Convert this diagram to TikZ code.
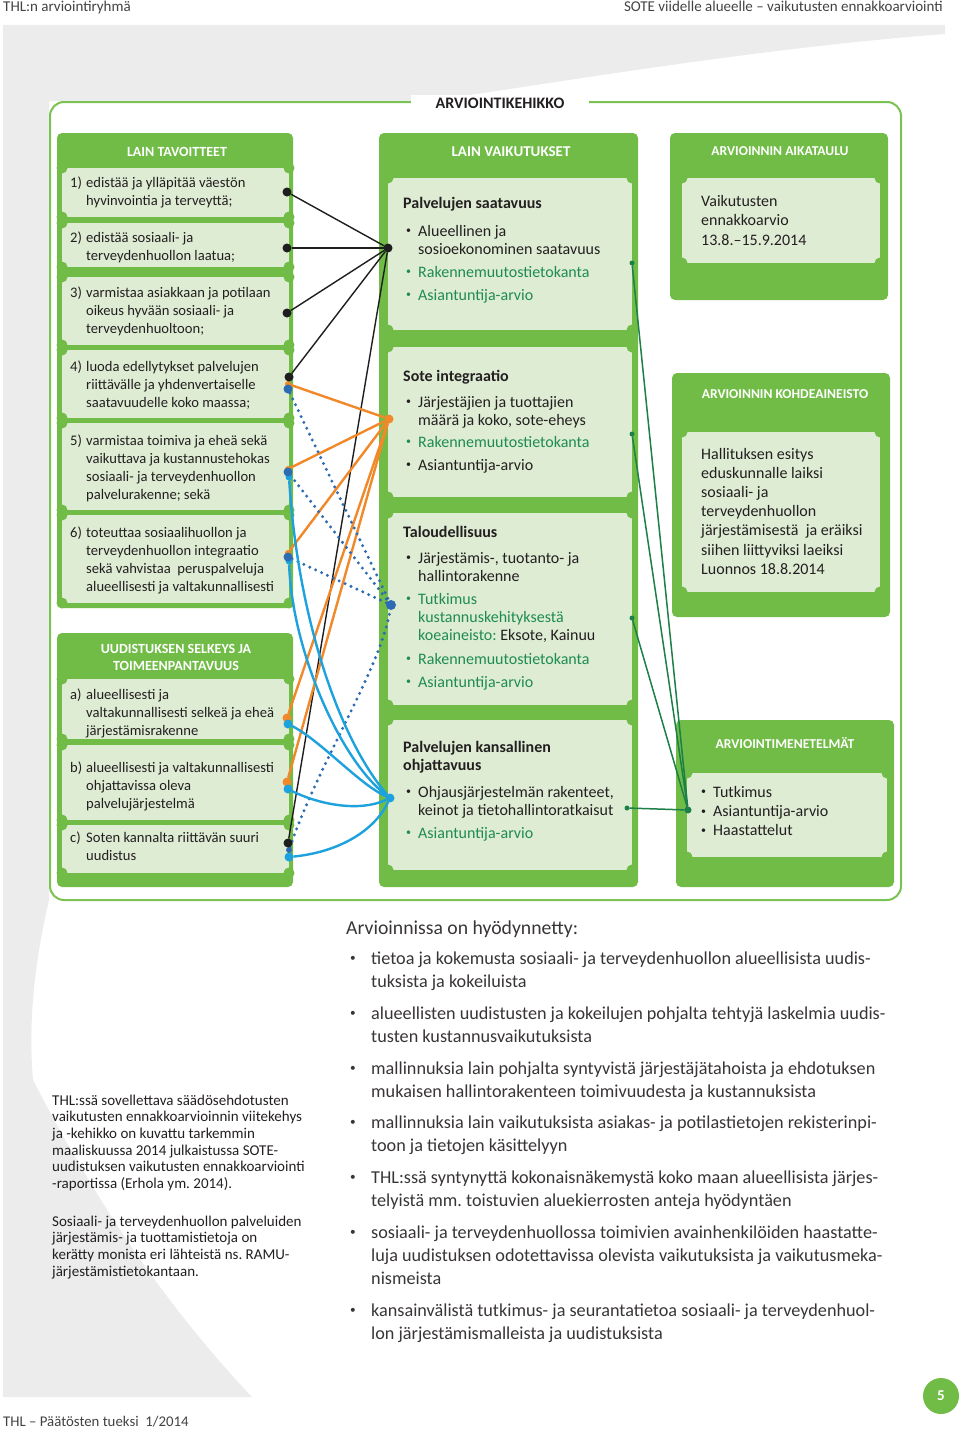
\documentclass[tikz,border=0pt]{standalone}
\usepackage{fontspec}
\setmainfont{Carlito}
\usepackage{array}
\usepackage{graphicx}
\frenchspacing
\definecolor{gr}{RGB}{112,188,70}
\definecolor{frm}{RGB}{122,194,82}
\definecolor{lt}{RGB}{222,236,212}
\definecolor{txt}{RGB}{35,31,32}
\definecolor{tg}{RGB}{30,140,80}
\definecolor{og}{RGB}{241,136,41}
\definecolor{cy}{RGB}{30,162,222}
\definecolor{db}{RGB}{45,108,178}
\definecolor{dg}{RGB}{28,128,72}
\definecolor{bgg}{RGB}{236,236,236}
\definecolor{blk}{RGB}{30,30,30}
\newcommand\mlines[1]{\begin{tabular}[t]{@{}l@{}}#1\end{tabular}}
\newcommand\mlinesc[1]{\begin{tabular}[t]{@{}c@{}}#1\end{tabular}}
\newcommand\nm[1]{\makebox[16pt][l]{#1}}
\newcommand\ind{\hspace*{16pt}}
\newcommand\sbul{\raisebox{0.13em}{\scalebox{0.62}{•}}}
\newcommand\bu{\makebox[12pt][l]{\sbul}}
\newcommand\bi{\hspace*{12pt}}
\newcommand\bb{\makebox[21pt][l]{\sbul}}
\newcommand\bbi{\hspace*{21pt}}
\newcommand\obx[5]{\node[obox, anchor=north west, minimum width={#4-#2}, minimum height={#5-#3}] (#1) at (#2,#3) {};}
\newcommand\tkt[5]{\node[tbx, anchor=north west, minimum width={#4-#2}, minimum height={#5-#3}] (#1) at (#2,#3) {};
  \fill[gr] (#1.north west) circle (5.5) (#1.north east) circle (5.5) (#1.south west) circle (5.5) (#1.south east) circle (5.5);}
\pgfdeclarelayer{top}
\pgfsetlayers{main,top}
\begin{document}
\begin{tikzpicture}[x=1pt,y=-1pt,
  obox/.style={fill=gr, rounded corners=5pt, inner sep=0pt, outer sep=0pt},
  tbx/.style={fill=lt, inner sep=0pt, outer sep=0pt},
  hd/.style={text=white, font=\fontsize{14}{17.6}\selectfont\bfseries, inner sep=0pt, anchor=base},
  c1/.style={font=\fontsize{14.6}{18.3}\selectfont, inner sep=0pt, anchor=base west, text=txt},
  c2/.style={font=\fontsize{16}{18}\selectfont, inner sep=0pt, anchor=base west, text=txt},
  c2b/.style={font=\fontsize{16}{18.3}\selectfont\bfseries, inner sep=0pt, anchor=base west, text=txt},
  c3/.style={font=\fontsize{16}{19.2}\selectfont, inner sep=0pt, anchor=base west, text=txt},
  bt/.style={font=\fontsize{18.2}{23.4}\selectfont, inner sep=0pt, anchor=base west, text=txt!90},
  lb/.style={font=\fontsize{15}{16.7}\selectfont, inner sep=0pt, anchor=base west, text=txt},
  hdr/.style={font=\fontsize{15}{16}\selectfont, inner sep=0pt, text=txt!85},
  dotn/.style={circle, fill=#1, inner sep=0pt, outer sep=0pt, minimum size=9pt},
  kl/.style={blk, line width=1.4pt},
  ol/.style={og, line width=2.4pt},
  cl/.style={cy, line width=2.4pt},
  dl/.style={db, line width=3.3pt, line cap=round, dash pattern=on 0pt off 6.5pt},
  gl/.style={dg, line width=1.5pt}
]
\useasboundingbox (0,0) rectangle (960,1429);
% background
\fill[bgg] (3,25) -- (945,25) -- (945,34) .. controls (760,48) and (560,82) .. (430,101) -- (49,101) -- (49,900) .. controls (35,960) and (28,1020) .. (33,1080) .. controls (100,1210) and (170,1310) .. (252,1397) -- (3,1397) -- cycle;
% header / footer
\node[hdr, anchor=base west] (hl) at (3,12) {THL:n arviointiryhmä};
\node[hdr, anchor=base east] (hr) at (943,12) {SOTE viidelle alueelle – vaikutusten ennakkoarviointi};
\node[hdr, anchor=base west, font=\fontsize{14.8}{16}\selectfont] (ft) at (3,1426) {THL – Päätösten tueksi\ \ 1/2014};
\node[circle, fill=gr, minimum size=36pt, inner sep=0pt, text=white, font=\fontsize{15}{15}\selectfont\bfseries] (pg) at (941,1396) {5};
% frame
\node[draw=frm, line width=2pt, fill=white, rounded corners=14pt, minimum width=851, minimum height=798, anchor=north west, inner sep=0pt] (frame) at (49,101) {};
\node[fill=white, inner xsep=25pt, inner ysep=3pt, font=\fontsize{16}{18}\selectfont\bfseries, text=txt, anchor=base] (ttl) at (500,108) {ARVIOINTIKEHIKKO};

% ---------- column 1
\obx{c1box}{57}{133}{293}{608}
\node[hd] (c1h) at (177,156) {LAIN TAVOITTEET};
\tkt{t1}{62}{168}{289}{217}
\tkt{t2}{62}{223}{289}{267}
\tkt{t3}{62}{277}{289}{345}
\tkt{t4}{62}{350}{289}{418}
\tkt{t5}{62}{423}{289}{510}
\tkt{t6}{62}{515}{289}{603}
\node[c1] (x1) at (70,187) {\mlines{\nm{1)}edistää ja ylläpitää väestön\\\ind hyvinvointia ja terveyttä;}};
\node[c1] (x2) at (70,242) {\mlines{\nm{2)}edistää sosiaali- ja\\\ind terveydenhuollon laatua;}};
\node[c1] (x3) at (70,297) {\mlines{\nm{3)}varmistaa asiakkaan ja potilaan\\\ind oikeus hyvään sosiaali- ja\\\ind terveydenhuoltoon;}};
\node[c1] (x4) at (70,371) {\mlines{\nm{4)}luoda edellytykset palvelujen\\\ind riittävälle ja yhdenvertaiselle\\\ind saatavuudelle koko maassa;}};
\node[c1] (x5) at (70,445) {\mlines{\nm{5)}varmistaa toimiva ja eheä sekä\\\ind vaikuttava ja kustannustehokas\\\ind sosiaali- ja terveydenhuollon\\\ind palvelurakenne; sekä}};
\node[c1] (x6) at (70,537) {\mlines{\nm{6)}toteuttaa sosiaalihuollon ja\\\ind terveydenhuollon integraatio\\\ind sekä vahvistaa\ \ peruspalveluja\\\ind alueellisesti ja valtakunnallisesti}};

\obx{c1b}{57}{633}{293}{887}
\node[hd] (c1bh) at (176,653) {\mlinesc{UUDISTUKSEN SELKEYS JA\\TOIMEENPANTAVUUS}};
\tkt{ta}{62}{679}{289}{739}
\tkt{tb}{62}{745}{289}{820}
\tkt{tc}{62}{825}{289}{873}
\node[c1] (xa) at (70,699) {\mlines{\nm{a)}alueellisesti ja\\\ind valtakunnallisesti selkeä ja eheä\\\ind järjestämisrakenne}};
\node[c1] (xb) at (70,772) {\mlines{\nm{b)}alueellisesti ja valtakunnallisesti\\\ind ohjattavissa oleva\\\ind palvelujärjestelmä}};
\node[c1] (xc) at (70,842) {\mlines{\nm{c)}Soten kannalta riittävän suuri\\\ind uudistus}};

% ---------- column 2
\obx{c2box}{379}{133}{638}{887}
\node[hd, font=\fontsize{15}{18}\selectfont\bfseries] (c2h) at (511,156) {LAIN VAIKUTUKSET};
\tkt{v1}{388}{178}{632}{330}
\tkt{v2}{388}{347}{632}{497}
\tkt{v3}{388}{513}{632}{705}
\tkt{v4}{388}{720}{632}{870}
\node[c2b] (v1t) at (403,208) {Palvelujen saatavuus};
\node[c2] (v1a) at (406,236) {\mlines{\bu Alueellinen ja\\\bi sosioekonominen saatavuus}};
\node[c2, text=tg] (v1b) at (406,277) {\bu Rakennemuutostietokanta};
\node[c2, text=tg] (v1c) at (406,300) {\bu Asiantuntija-arvio};
\node[c2b] (v2t) at (403,381) {Sote integraatio};
\node[c2] (v2a) at (406,407) {\mlines{\bu Järjestäjien ja tuottajien\\\bi määrä ja koko, sote-eheys}};
\node[c2, text=tg] (v2b) at (406,447) {\bu Rakennemuutostietokanta};
\node[c2] (v2c) at (406,470) {\bu Asiantuntija-arvio};
\node[c2b] (v3t) at (403,537) {Taloudellisuus};
\node[c2] (v3a) at (406,563) {\mlines{\bu Järjestämis-, tuotanto- ja\\\bi hallintorakenne}};
\node[c2, text=tg] (v3b) at (406,604) {\mlines{\bu Tutkimus\\\bi kustannuskehityksestä\\\bi koeaineisto:\textcolor{txt}{\ Eksote, Kainuu}}};
\node[c2, text=tg] (v3c) at (406,664) {\bu Rakennemuutostietokanta};
\node[c2, text=tg] (v3d) at (406,687) {\bu Asiantuntija-arvio};
\node[c2b] (v4t) at (403,752) {\mlines{Palvelujen kansallinen\\ohjattavuus}};
\node[c2] (v4a) at (406,797) {\mlines{\bu Ohjausjärjestelmän rakenteet,\\\bi keinot ja tietohallintoratkaisut}};
\node[c2, text=tg] (v4b) at (406,838) {\bu Asiantuntija-arvio};

% ---------- column 3
\obx{c3a}{670}{133}{888}{300}
\node[hd, font=\fontsize{13.6}{16}\selectfont\bfseries] (c3ah) at (780,155) {ARVIOINNIN AIKATAULU};
\tkt{s1}{682}{178}{880}{263}
\node[c3, font=\fontsize{16}{19.5}\selectfont] (s1t) at (701,206) {\mlines{Vaikutusten\\ennakkoarvio\\13.8.–15.9.2014}};
\obx{c3b}{672}{373}{890}{617}
\node[hd, font=\fontsize{13.6}{16}\selectfont\bfseries] (c3bh) at (785,398) {ARVIOINNIN KOHDEAINEISTO};
\tkt{s2}{682}{432}{880}{592}
\node[c3] (s2t) at (701,459) {\mlines{Hallituksen esitys\\eduskunnalle laiksi\\sosiaali- ja\\terveydenhuollon\\järjestämisestä\ \ ja eräiksi\\siihen liittyviksi laeiksi\\Luonnos 18.8.2014}};
\obx{c3c}{676}{720}{894}{887}
\node[hd, font=\fontsize{13.6}{16}\selectfont\bfseries] (c3ch) at (785,748) {ARVIOINTIMENETELMÄT};
\tkt{s3}{687}{773}{887}{857}
\node[c3, font=\fontsize{16}{19.4}\selectfont] (s3t) at (701,797) {\mlines{\bu Tutkimus\\\bu Asiantuntija-arvio\\\bu Haastattelut}};

% ---------- connector end points (on top layer)
\begin{pgfonlayer}{top}
\node[dotn=og, minimum size=6pt] (o4) at (288,384) {};
\node[dotn=og, minimum size=6pt] (o5) at (288,469) {};
\node[dotn=og, minimum size=6pt] (o6) at (288,553) {};
\node[dotn=og] (oa) at (287,718) {};
\node[dotn=og] (ob) at (287,782) {};
\node[dotn=og] (oh) at (389,419) {};
\node[dotn=cy, minimum size=7pt] (y5) at (289,477) {};
\node[dotn=cy, minimum size=7pt] (y6) at (289,561) {};
\node[dotn=cy] (ya) at (288,724) {};
\node[dotn=cy] (yb) at (288,789) {};
\node[dotn=cy] (yc) at (289,857) {};
\node[dotn=cy] (yh) at (390,798) {};
\node[dotn=db] (d4) at (288,389) {};
\node[dotn=db] (d5) at (288,472) {};
\node[dotn=db] (d6) at (288,557) {};
\node[dotn=db, minimum size=6pt] (dc) at (289,850) {};
\node[dotn=db, minimum size=10pt] (dh) at (391,605) {};
\node[dotn=blk] (a1) at (287,192) {};
\node[dotn=blk] (a2) at (287,248) {};
\node[dotn=blk] (a3) at (287,313) {};
\node[dotn=blk] (a4) at (289,377) {};
\node[dotn=blk] (ac) at (288,843) {};
\node[dotn=blk] (ah) at (388,248) {};
\node[dotn=dg, minimum size=5pt] (g1) at (632,263) {};
\node[dotn=dg, minimum size=5pt] (g2) at (632,434) {};
\node[dotn=dg, minimum size=5pt] (g3) at (632,618) {};
\node[dotn=dg, minimum size=5pt] (g4) at (627,808) {};
\node[dotn=dg, minimum size=7pt] (gh) at (688,810) {};
\end{pgfonlayer}

% connectors
\draw[kl] (a1) -- (ah);
\draw[kl] (a2) -- (ah);
\draw[kl] (a3) -- (ah);
\draw[kl] (a4) -- (ah);
\draw[kl] (ac) -- (ah);
\draw[ol] (o4) -- (oh);
\draw[ol] (o5) -- (oh);
\draw[ol] (o6) -- (oh);
\draw[ol] (oa) -- (oh);
\draw[ol] (ob) -- (oh);
\draw[dl] (d4) -- (dh);
\draw[dl] (d5) -- (dh);
\draw[dl] (d6) -- (dh);
\draw[dl] (dc) .. controls (320,760) and (380,670) .. (dh);
\draw[cl] (y5) .. controls (298,620) and (340,740) .. (yh);
\draw[cl] (y6) .. controls (292,650) and (340,760) .. (yh);
\draw[cl] (ya) .. controls (320,740) and (360,785) .. (yh);
\draw[cl] (yb) .. controls (320,805) and (360,812) .. (yh);
\draw[cl] (yc) .. controls (340,852) and (375,830) .. (yh);
\draw[gl] (g1) -- (gh);
\draw[gl] (g2) -- (gh);
\draw[gl] (g3) -- (gh);
\draw[gl] (g4) -- (gh);

% ---------- bottom texts
\node[bt, font=\fontsize{19.7}{22}\selectfont] (bh) at (346,934) {Arvioinnissa on hyödynnetty:};
\node[bt] (l1) at (350,964) {\mlines{\bb tietoa ja kokemusta sosiaali- ja terveydenhuollon alueellisista uudis-\\\bbi tuksista ja kokeiluista}};
\node[bt] (l2) at (350,1019) {\mlines{\bb alueellisten uudistusten ja kokeilujen pohjalta tehtyjä laskelmia uudis-\\\bbi tusten kustannusvaikutuksista}};
\node[bt] (l3) at (350,1074) {\mlines{\bb mallinnuksia lain pohjalta syntyvistä järjestäjätahoista ja ehdotuksen\\\bbi mukaisen hallintorakenteen toimivuudesta ja kustannuksista}};
\node[bt] (l4) at (350,1128) {\mlines{\bb mallinnuksia lain vaikutuksista asiakas- ja potilastietojen rekisterinpi-\\\bbi toon ja tietojen käsittelyyn}};
\node[bt] (l5) at (350,1183) {\mlines{\bb THL:ssä syntynyttä kokonaisnäkemystä koko maan alueellisista järjes-\\\bbi telyistä mm. toistuvien aluekierrosten anteja hyödyntäen}};
\node[bt] (l6) at (350,1238) {\mlines{\bb sosiaali- ja terveydenhuollossa toimivien avainhenkilöiden haastatte-\\\bbi luja uudistuksen odotettavissa olevista vaikutuksista ja vaikutusmeka-\\\bbi nismeista}};
\node[bt] (l7) at (350,1316) {\mlines{\bb kansainvälistä tutkimus- ja seurantatietoa sosiaali- ja terveydenhuol-\\\bbi lon järjestämismalleista ja uudistuksista}};

\node[lb] (p1) at (52,1105) {\mlines{THL:ssä sovellettava säädösehdotusten\\vaikutusten ennakkoarvioinnin viitekehys\\ja -kehikko on kuvattu tarkemmin\\maaliskuussa 2014 julkaistussa SOTE-\\uudistuksen vaikutusten ennakkoarviointi\\-raportissa (Erhola ym. 2014).}};
\node[lb] (p2) at (52,1226) {\mlines{Sosiaali- ja terveydenhuollon palveluiden\\järjestämis- ja tuottamistietoja on\\kerätty monista eri lähteistä ns. RAMU-\\järjestämistietokantaan.}};
\end{tikzpicture}
\end{document}
